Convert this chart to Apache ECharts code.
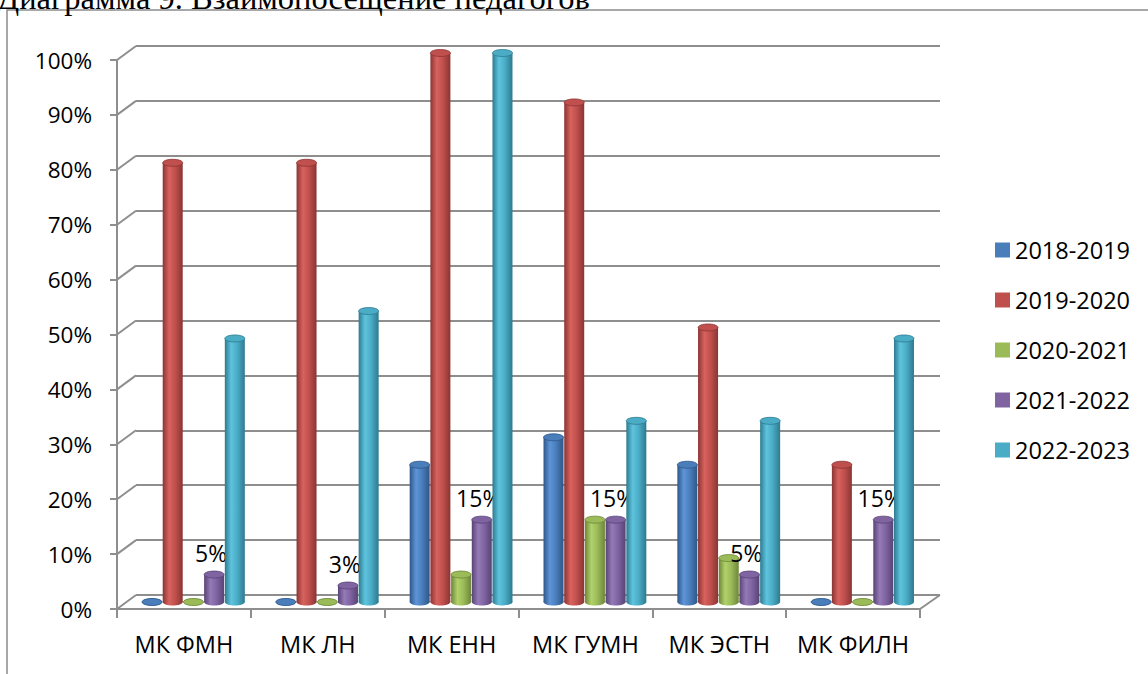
<!DOCTYPE html>
<html>
<head>
<meta charset="utf-8">
<style>
  html, body { margin: 0; padding: 0; background: #ffffff; }
  #chart { width: 1148px; height: 674px; }
</style>
<script src="https://cdn.jsdelivr.net/npm/echarts@6/dist/echarts.min.js"></script>
</head>
<body>
<div id="chart"></div>
<script>
// ---- data ----
const titleText = 'Диаграмма 9. Взаимопосещение педагогов';
const categories = ['МК ФМН', 'МК ЛН', 'МК ЕНН', 'МК ГУМН', 'МК ЭСТН', 'МК ФИЛН'];
const years = ['2018-2019', '2019-2020', '2020-2021', '2021-2022', '2022-2023'];
const values2018 = [0, 0, 25, 30, 25, 0];
const values2019 = [80, 80, 100, 91, 50, 25];
const values2020 = [0, 0, 5, 15, 8, 0];
const values2021 = [5, 3, 15, 15, 5, 15];
const values2022 = [48, 53, 100, 33, 33, 48];
const yTicks = [0, 10, 20, 30, 40, 50, 60, 70, 80, 90, 100];
const labelledSeries = 3; // 2021-2022 carries value labels

// ---- style ----
const FONT = 'Open Sans';
const GRID_COLOR = '#8e8e8e';
const DX = 19, DY = 14;
const BAR_W = 20, STEP = 20.7, CAP_H = 7;
const palette = [
  { base: '#4a7ebb', light: '#5e95d8', dark: '#2d5788' },
  { base: '#c0504d', light: '#d8625e', dark: '#8a3533' },
  { base: '#9bbb59', light: '#b1d169', dark: '#6c863a' },
  { base: '#8064a2', light: '#957ab8', dark: '#584374' },
  { base: '#4bacc6', light: '#5ec4de', dark: '#2d7a8f' }
];
const allValues = [values2018, values2019, values2020, values2021, values2022];

const chart = echarts.init(document.getElementById('chart'), null, { renderer: 'svg' });

function bodyGrad(p) {
  return new echarts.graphic.LinearGradient(0, 0, 1, 0, [
    { offset: 0, color: p.dark },
    { offset: 0.32, color: p.light },
    { offset: 0.62, color: p.base },
    { offset: 1, color: p.dark }
  ]);
}

function makeCylinderRender(si) {
  const p = palette[si];
  return function (params, api) {
    const cat = api.value(0);
    const val = api.value(1);
    const top = api.coord([cat, val]);
    const base = api.coord([cat, 0]);
    const cx = top[0] + (si - (years.length - 1) / 2) * STEP;
    const rx = BAR_W / 2, ry = CAP_H / 2;
    const children = [
      { type: 'ellipse', shape: { cx: cx, cy: base[1], rx: rx, ry: ry }, style: { fill: bodyGrad(p) } },
      { type: 'rect', shape: { x: cx - rx, y: top[1], width: BAR_W, height: Math.max(0, base[1] - top[1]) }, style: { fill: bodyGrad(p) } },
      { type: 'ellipse', shape: { cx: cx, cy: top[1], rx: rx, ry: ry }, style: { fill: p.base, stroke: p.dark, lineWidth: 0.8 } }
    ];
    if (si === labelledSeries) {
      children.push({
        type: 'text',
        style: {
          text: val + '%', x: cx - 3, y: top[1] - 22,
          textAlign: 'center', textVerticalAlign: 'middle',
          font: '23px "' + FONT + '"', fill: '#000'
        }
      });
    }
    return { type: 'group', children: children };
  };
}

const series = [];

// left wall diagonals + right floor edge
series.push({
  type: 'custom',
  xAxisIndex: 0, yAxisIndex: 0,
  clip: false, silent: true, z: 1,
  data: yTicks.map(v => [0, v]),
  renderItem: function (params, api) {
    const cs = params.coordSys;
    const y = api.coord([0, api.value(1)])[1];
    const ls = { stroke: GRID_COLOR, lineWidth: 2 };
    const ch = [{ type: 'line', shape: { x1: cs.x, y1: y, x2: cs.x + DX, y2: y - DY }, style: ls }];
    if (api.value(1) === 0) {
      ch.push({ type: 'line', shape: { x1: cs.x + cs.width, y1: y, x2: cs.x + cs.width + DX + 1, y2: y - DY }, style: ls });
    }
    return { type: 'group', children: ch };
  }
});

years.forEach((name, si) => {
  series.push({
    type: 'custom',
    name: name,
    xAxisIndex: 2, yAxisIndex: 2,
    itemStyle: { color: palette[si].base },
    data: allValues[si].map((v, j) => [j, v]),
    encode: { x: 0, y: 1 },
    z: 3,
    renderItem: makeCylinderRender(si)
  });
});

const option = {
  animation: false,
  backgroundColor: '#ffffff',
  textStyle: { fontFamily: FONT },
  graphic: [
    { type: 'rect', z: -1, shape: { x: 7, y: 10, width: 1200, height: 700 }, style: { fill: 'none', stroke: '#8c8c8c', lineWidth: 1.5 } },
    { type: 'text', x: -3, y: 14, style: { text: titleText, font: '32.5px "Liberation Serif"', fill: '#000', textVerticalAlign: 'bottom' } }
  ],
  legend: {
    orient: 'vertical', left: 995, top: 238, padding: 0,
    itemWidth: 15, itemHeight: 15, itemGap: 26, icon: 'rect',
    textStyle: { fontSize: 23.5, color: '#000', fontFamily: FONT, lineHeight: 22 },
    data: years.map((n, i) => ({ name: n, itemStyle: { color: palette[i].base } }))
  },
  grid: [
    { left: 117, top: 60, width: 803, height: 549 },
    { left: 136, top: 46, width: 804, height: 549 },
    { left: 126.5, top: 53, width: 803, height: 549 }
  ],
  xAxis: [
    {
      gridIndex: 0, type: 'category', data: categories,
      axisLine: { lineStyle: { color: GRID_COLOR, width: 2 } },
      axisTick: { show: true, length: 9, lineStyle: { color: GRID_COLOR, width: 2 } },
      axisLabel: { interval: 0, margin: 23, fontSize: 23.5, color: '#000', fontFamily: FONT },
      splitLine: { show: false }
    },
    { gridIndex: 1, type: 'category', data: categories, show: false },
    { gridIndex: 2, type: 'category', data: categories, show: false }
  ],
  yAxis: [
    {
      gridIndex: 0, type: 'value', min: 0, max: 100, interval: 10,
      axisLine: { show: true, lineStyle: { color: GRID_COLOR, width: 2 } },
      axisTick: { show: true, length: 7, lineStyle: { color: GRID_COLOR, width: 2 } },
      axisLabel: { formatter: '{value}%', margin: 25, fontSize: 22.5, color: '#000', fontFamily: FONT },
      splitLine: { show: false }
    },
    {
      gridIndex: 1, type: 'value', min: 0, max: 100, interval: 10,
      axisLabel: { show: false }, axisLine: { show: false }, axisTick: { show: false },
      splitLine: { show: true, lineStyle: { color: GRID_COLOR, width: 2 } }
    },
    { gridIndex: 2, type: 'value', min: 0, max: 100, interval: 10, show: false, splitLine: { show: false } }
  ],
  series: series
};

chart.setOption(option);
</script>
</body>
</html>
